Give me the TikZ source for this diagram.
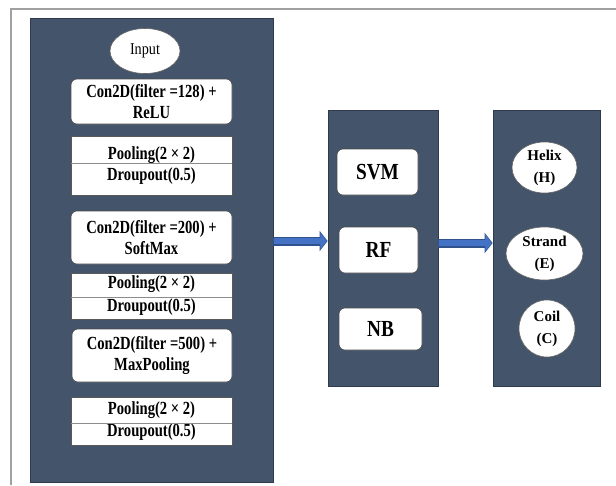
\documentclass[tikz,border=0pt]{standalone}
\usepackage{fontspec}
\setmainfont{Liberation Serif}
\newfontfamily\condfont[FakeStretch=0.79]{Liberation Serif}
\newfontfamily\clsfont[FakeStretch=0.84]{Liberation Serif}
\newfontfamily\inputfont[FakeStretch=0.86]{Liberation Serif}
\usetikzlibrary{shapes.geometric,arrows.meta}
\definecolor{panel}{HTML}{44546A}
\definecolor{panelb}{HTML}{2F3B4C}
\definecolor{arr}{HTML}{4472C4}
\definecolor{arrb}{HTML}{2F528F}
\definecolor{frame}{HTML}{A0A0A0}
\tikzset{
  panelbox/.style={draw=panelb, fill=panel, line width=0.8pt},
  rbox/.style={draw=black!70, fill=white, rounded corners=6pt, line width=0.6pt, align=center,
    font=\condfont\bfseries\fontsize{18.5}{21}\selectfont, inner sep=0pt},
  pbox/.style={draw=black!65, fill=white, line width=0.6pt, align=center,
    font=\condfont\bfseries\fontsize{18.5}{21}\selectfont, inner sep=0pt, minimum width=161pt},
  divider/.style={draw=black!45, line width=0.6pt},
  cbox/.style={draw=black!70, fill=white, rounded corners=6pt, line width=0.6pt,
    font=\clsfont\bfseries\fontsize{23}{26}\selectfont, inner sep=0pt},
  oval/.style={ellipse, draw=black!60, fill=white, line width=0.6pt, align=center, inner sep=0pt,
    font=\bfseries\fontsize{15}{22}\selectfont},
  bigarrow/.style={line width=9pt, arrb, -{Triangle[length=8pt,width=20pt]}},
  bigarrowin/.style={line width=6.6pt, arr, -{Triangle[length=6.4pt,width=16.5pt]}, shorten >=0.9pt},
}
\begin{document}
\begin{tikzpicture}[x=1pt,y=-1pt]
\useasboundingbox[fill=white] (0,0) rectangle (616,485);
% outer frame (top and left lines)
\draw[frame, line width=2pt] (11,485) -- (11,9) -- (616,9);
% panels
\node[panelbox, minimum width=243pt, minimum height=464pt, inner sep=0pt] (left) at (151.5,250) {};
\node[panelbox, minimum width=110pt, minimum height=276pt, inner sep=0pt] (mid) at (383,248) {};
\node[panelbox, minimum width=107pt, minimum height=276pt, inner sep=0pt] (right) at (546.5,248) {};
% left column
\node[ellipse, draw=black!60, fill=white, line width=0.6pt, minimum width=70pt, minimum height=45pt,
  inner sep=0pt, font=\inputfont\fontsize{16.5}{20}\selectfont] (input) at (145,51) {Input};
\node[rbox, minimum width=161pt, minimum height=45pt] (c1) at (151.5,101.5) {Con2D(filter =128) +\\ReLU};
\node[pbox, minimum height=59pt] (p1) at (151.5,165.5) {Pooling(2 × 2)\\Droupout(0.5)};
\draw[divider] (p1.west |- 0,163) -- (p1.east |- 0,163);
\node[rbox, minimum width=161pt, minimum height=53pt] (c2) at (151.5,237.5) {Con2D(filter =200) +\\SoftMax};
\node[pbox, minimum height=46pt, font=\condfont\bfseries\fontsize{18.5}{23}\selectfont] (p2) at (151.5,296) {Pooling(2 × 2)\\Droupout(0.5)};
\draw[divider] (p2.west |- 0,297) -- (p2.east |- 0,297);
\node[rbox, minimum width=160pt, minimum height=53pt] (c3) at (152,355.5) {Con2D(filter =500) +\\MaxPooling};
\node[pbox, minimum height=48pt, font=\condfont\bfseries\fontsize{18.5}{22}\selectfont] (p3) at (151.5,421) {Pooling(2 × 2)\\Droupout(0.5)};
\draw[divider] (p3.west |- 0,423) -- (p3.east |- 0,423);
% middle column
\node[cbox, minimum width=81pt, minimum height=46pt] (svm) at (377.5,172) {SVM};
\node[cbox, minimum width=79pt, minimum height=46pt] (rf) at (378.5,250) {RF};
\node[cbox, minimum width=83pt, minimum height=42pt] (nb) at (380.5,329) {NB};
% right column
\node[oval, minimum width=65pt, minimum height=51pt] (helix) at (544.5,167.5) {Helix\\(H)};
\node[oval, minimum width=77pt, minimum height=53pt] (strand) at (544.5,253.5) {Strand\\(E)};
\node[oval, minimum width=56pt, minimum height=57pt] (coil) at (547,328.5) {Coil\\(C)};
% arrows
\coordinate (a1s) at (left.east |- 0,241);
\coordinate (a1e) at (mid.west |- 0,241);
\coordinate (a2s) at (mid.east |- 0,243);
\coordinate (a2e) at (right.west |- 0,243);
\draw[bigarrow] (a1s) -- (a1e);
\draw[bigarrowin] ([xshift=0.8pt]a1s) -- (a1e);
\draw[bigarrow] (a2s) -- (a2e);
\draw[bigarrowin] ([xshift=0.8pt]a2s) -- (a2e);
\end{tikzpicture}
\end{document}
